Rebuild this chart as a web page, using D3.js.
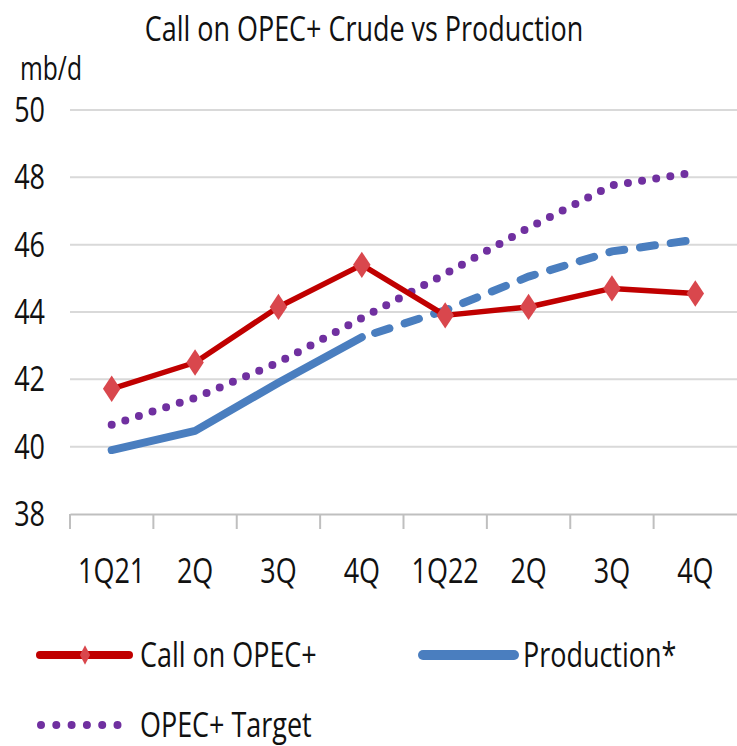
<!DOCTYPE html>
<html>
<head>
<meta charset="utf-8">
<script src="https://cdn.jsdelivr.net/npm/d3@7"></script>
<style>
  body { margin: 0; background: #fff; }
  text { font-family: "Open Sans", sans-serif; fill: #111; }
</style>
</head>
<body>
<div id="chart"></div>
<script>
// data
const quarters = ["1Q21", "2Q", "3Q", "4Q", "1Q22", "2Q", "3Q", "4Q"]
const callOnOpec = [41.72, 42.5, 44.15, 45.4, 43.9, 44.15, 44.7, 44.55]
const production = [39.9, 40.47, 41.9, 43.25, 44.05, 45.05, 45.8, 46.15]
const productionActualUntil = 3   // solid up to 4Q21, dashed after
const opecTarget = [40.65, 41.45, 42.5, 43.82, 45.13, 46.5, 47.76, 48.15]
const yTicks = [38, 40, 42, 44, 46, 48, 50]

const width = 737, height = 746
const squeeze = 0.77   // narrow typeface look
const fontSize = "35px"

const svg = d3.select("#chart").append("svg")
    .attr("width", width)
    .attr("height", height)

const xScale = d3.scaleBand()
    .domain(d3.range(quarters.length))
    .range([70, 737])

const yScale = d3.scaleLinear()
    .domain([38, 50])
    .range([514, 110])

const cx = i => xScale(i) + xScale.bandwidth() / 2

// text helper: squeezed horizontally
function label(g, x, y, txt, anchor = "start", size = fontSize) {
    return g.append("text")
        .attr("transform", `translate(${x},${y}) scale(${squeeze},1)`)
        .attr("text-anchor", anchor)
        .style("font-size", size)
        .text(txt)
}

// title
label(svg, 364, 41, "Call on OPEC+ Crude vs Production", "middle")
label(svg, 20, 80, "mb/d", "start", "32px")

// grid lines
svg.append("g")
    .selectAll("line")
    .data(yTicks.filter(d => d > 38))
    .join("line")
    .attr("x1", 70).attr("x2", width)
    .attr("y1", d => yScale(d)).attr("y2", d => yScale(d))
    .attr("stroke", "#d9d9d9")
    .attr("stroke-width", 2)

// y axis labels
const yLab = svg.append("g")
yTicks.forEach(d => label(yLab, 45, yScale(d) + 12, d, "end"))

// x axis
const xAxisG = svg.append("g")
    .attr("transform", `translate(0,${yScale(38)})`)
    .call(d3.axisBottom(xScale).tickSize(0).tickFormat(""))
xAxisG.select(".domain").attr("stroke", "#bfbfbf").attr("stroke-width", 2)

const xLab = svg.append("g")
d3.range(quarters.length).forEach(i => label(xLab, cx(i), 583, quarters[i], "middle"))

// category boundary ticks
svg.append("g")
    .selectAll("line")
    .data(d3.range(quarters.length))
    .join("line")
    .attr("x1", i => xScale(i)).attr("x2", i => xScale(i))
    .attr("y1", yScale(38)).attr("y2", yScale(38) + 15)
    .attr("stroke", "#bfbfbf")
    .attr("stroke-width", 2)

const line = d3.line()
    .x(d => cx(d.i))
    .y(d => yScale(d.v))

const toPts = arr => arr.map((v, i) => ({ i, v }))

// OPEC+ target (dotted)
svg.append("path")
    .attr("d", line(toPts(opecTarget)))
    .attr("fill", "none")
    .attr("stroke", "#7030a0")
    .attr("stroke-width", 8)
    .attr("stroke-linecap", "round")
    .attr("stroke-dasharray", "0 14.3")

// production, solid then dashed
const prodPts = toPts(production)
svg.append("path")
    .attr("d", line(prodPts.slice(0, productionActualUntil + 1)))
    .attr("fill", "none")
    .attr("stroke", "#4a7ebf")
    .attr("stroke-width", 8)
    .attr("stroke-linecap", "round")
    .attr("stroke-linejoin", "round")

svg.append("path")
    .attr("d", line(prodPts.slice(productionActualUntil)))
    .attr("fill", "none")
    .attr("stroke", "#4a7ebf")
    .attr("stroke-width", 8)
    .attr("stroke-linecap", "round")
    .attr("stroke-dasharray", "15 16")
    .attr("stroke-dashoffset", -14)

// call on OPEC+
svg.append("path")
    .attr("d", line(toPts(callOnOpec)))
    .attr("fill", "none")
    .attr("stroke", "#c00000")
    .attr("stroke-width", 5.5)
    .attr("stroke-linejoin", "round")

const diamond = d3.symbol().type(d3.symbolDiamond).size(200)
svg.append("g")
    .selectAll("path")
    .data(toPts(callOnOpec))
    .join("path")
    .attr("d", diamond)
    .attr("transform", d => `translate(${cx(d.i)},${yScale(d.v)}) scale(1.15,1)`)
    .attr("fill", "#d9474d")

// legend
const legend = svg.append("g")

legend.append("line")
    .attr("x1", 40).attr("x2", 129).attr("y1", 655).attr("y2", 655)
    .attr("stroke", "#c00000").attr("stroke-width", 8).attr("stroke-linecap", "round")
legend.append("path")
    .attr("d", d3.symbol().type(d3.symbolDiamond).size(90))
    .attr("transform", "translate(85,655) scale(1,1.1)")
    .attr("fill", "#d9474d")
label(legend, 140, 667, "Call on OPEC+")

legend.append("line")
    .attr("x1", 423).attr("x2", 514).attr("y1", 655).attr("y2", 655)
    .attr("stroke", "#4a7ebf").attr("stroke-width", 10).attr("stroke-linecap", "round")
label(legend, 523, 667, "Production*")

legend.append("line")
    .attr("x1", 41).attr("x2", 118).attr("y1", 725).attr("y2", 725)
    .attr("stroke", "#7030a0").attr("stroke-width", 8)
    .attr("stroke-linecap", "round").attr("stroke-dasharray", "0 15.3")
label(legend, 140, 737, "OPEC+ Target")
</script>
</body>
</html>
